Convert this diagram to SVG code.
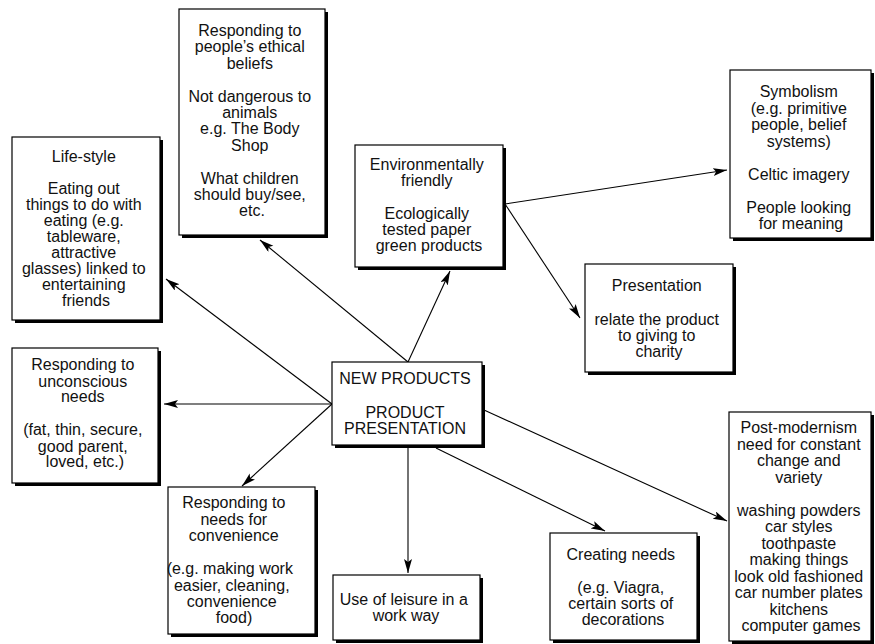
<svg xmlns="http://www.w3.org/2000/svg" width="875" height="644" viewBox="0 0 875 644">
  <style>
    .shadow { fill: #000; }
    .box { fill: #fff; stroke: #000; stroke-width: 1.2; }
    .label { font-family: "Liberation Sans", Arial, Helvetica, sans-serif; font-size: 16px; fill: #111; text-anchor: middle; }
    .link { stroke: #000; stroke-width: 1.1; fill: none; marker-end: url(#arrow); }
  </style>
  <defs>
    <marker id="arrow" markerUnits="userSpaceOnUse" markerWidth="15" markerHeight="9" refX="14" refY="4" orient="auto">
      <path d="M0,0 L14,4 L0,8 L3,4 Z" fill="#000"/>
    </marker>
  </defs>
  <rect width="875" height="644" fill="#fff"/>

  <!-- connectors -->
  <g id="connectors">
    <line class="link" x1="332" y1="404" x2="166" y2="279"/>
    <line class="link" x1="332" y1="404" x2="164" y2="404"/>
    <line class="link" x1="332" y1="404" x2="242" y2="486"/>
    <line class="link" x1="408" y1="362" x2="260" y2="240"/>
    <line class="link" x1="408" y1="362" x2="450" y2="271"/>
    <line class="link" x1="505" y1="204" x2="727" y2="170"/>
    <line class="link" x1="505" y1="204" x2="580" y2="318"/>
    <line class="link" x1="408" y1="448" x2="408" y2="573"/>
    <line class="link" x1="436" y1="448" x2="605" y2="531"/>
    <line class="link" x1="484" y1="410" x2="727" y2="521"/>
  </g>

  <!-- centre node -->
  <g id="node-new-products">
    <rect class="shadow" x="335" y="365" width="150" height="83"/>
    <rect class="box" x="332" y="362" width="150" height="83"/>
    <text class="label" x="405" y="384">NEW PRODUCTS</text>
    <text class="label" x="405" y="418">PRODUCT</text>
    <text class="label" x="405" y="434">PRESENTATION</text>
  </g>

  <g id="node-ethical">
    <rect class="shadow" x="182" y="12" width="146" height="226"/>
    <rect class="box" x="179" y="9" width="146" height="226"/>
    <text class="label">
      <tspan x="252" y="36">Responding to</tspan>
      <tspan x="252" y="52.4">people’s ethical</tspan>
      <tspan x="252" y="68.8">beliefs</tspan>
      <tspan x="252" y="101.6">Not dangerous to</tspan>
      <tspan x="252" y="118">animals</tspan>
      <tspan x="252" y="134.4">e.g. The Body</tspan>
      <tspan x="252" y="150.8">Shop</tspan>
      <tspan x="252" y="183.6">What children</tspan>
      <tspan x="252" y="200">should buy/see,</tspan>
      <tspan x="252" y="216.4">etc.</tspan>
    </text>
  </g>

  <g id="node-lifestyle">
    <rect class="shadow" x="15" y="140" width="148" height="183"/>
    <rect class="box" x="12" y="137" width="148" height="183"/>
    <text class="label">
      <tspan x="86" y="162">Life-style</tspan>
      <tspan x="86" y="194">Eating out</tspan>
      <tspan x="86" y="210">things to do with</tspan>
      <tspan x="86" y="226">eating (e.g.</tspan>
      <tspan x="86" y="242">tableware,</tspan>
      <tspan x="86" y="258">attractive</tspan>
      <tspan x="86" y="274">glasses) linked to</tspan>
      <tspan x="86" y="290">entertaining</tspan>
      <tspan x="86" y="306">friends</tspan>
    </text>
  </g>

  <g id="node-environment">
    <rect class="shadow" x="358" y="148" width="148" height="122"/>
    <rect class="box" x="355" y="145" width="148" height="122"/>
    <text class="label">
      <tspan x="429" y="170">Environmentally</tspan>
      <tspan x="429" y="186">friendly</tspan>
      <tspan x="429" y="219">Ecologically</tspan>
      <tspan x="429" y="235">tested paper</tspan>
      <tspan x="429" y="251">green products</tspan>
    </text>
  </g>

  <g id="node-symbolism">
    <rect class="shadow" x="733" y="73" width="141" height="168"/>
    <rect class="box" x="730" y="70" width="141" height="168"/>
    <text class="label">
      <tspan x="801" y="97">Symbolism</tspan>
      <tspan x="801" y="113.5">(e.g. primitive</tspan>
      <tspan x="801" y="130">people, belief</tspan>
      <tspan x="801" y="146.5">systems)</tspan>
      <tspan x="801" y="179.5">Celtic imagery</tspan>
      <tspan x="801" y="212.5">People looking</tspan>
      <tspan x="801" y="229">for meaning</tspan>
    </text>
  </g>

  <g id="node-presentation">
    <rect class="shadow" x="588" y="267" width="148" height="108"/>
    <rect class="box" x="585" y="264" width="148" height="108"/>
    <text class="label">
      <tspan x="659" y="291">Presentation</tspan>
      <tspan x="659" y="325">relate the product</tspan>
      <tspan x="659" y="341">to giving to</tspan>
      <tspan x="659" y="357">charity</tspan>
    </text>
  </g>

  <g id="node-unconscious">
    <rect class="shadow" x="15" y="351" width="146" height="135"/>
    <rect class="box" x="12" y="348" width="146" height="135"/>
    <text class="label">
      <tspan x="85" y="370">Responding to</tspan>
      <tspan x="85" y="386.5">unconscious</tspan>
      <tspan x="85" y="402">needs</tspan>
      <tspan x="85" y="435">(fat, thin, secure,</tspan>
      <tspan x="85" y="451.5">good parent,</tspan>
      <tspan x="85" y="467">loved, etc.)</tspan>
    </text>
  </g>

  <g id="node-convenience">
    <rect class="shadow" x="171" y="490" width="147" height="147"/>
    <rect class="box" x="168" y="487" width="147" height="147"/>
    <text class="label">
      <tspan x="236" y="508">Responding to</tspan>
      <tspan x="236" y="524.5">needs for</tspan>
      <tspan x="236" y="541">convenience</tspan>
      <tspan x="232" y="574">(e.g. making work</tspan>
      <tspan x="234" y="590.5">easier, cleaning,</tspan>
      <tspan x="234" y="607">convenience</tspan>
      <tspan x="234" y="623">food)</tspan>
    </text>
  </g>

  <g id="node-leisure">
    <rect class="shadow" x="336" y="578" width="147" height="65"/>
    <rect class="box" x="333" y="575" width="147" height="65"/>
    <text class="label">
      <tspan x="406" y="605">Use of leisure in a</tspan>
      <tspan x="406" y="621">work way</tspan>
    </text>
  </g>

  <g id="node-creating-needs">
    <rect class="shadow" x="553" y="536" width="147" height="107"/>
    <rect class="box" x="550" y="533" width="147" height="107"/>
    <text class="label">
      <tspan x="623" y="560">Creating needs</tspan>
      <tspan x="623" y="593">(e.g. Viagra,</tspan>
      <tspan x="623" y="609">certain sorts of</tspan>
      <tspan x="623" y="625">decorations</tspan>
    </text>
  </g>

  <g id="node-post-modernism">
    <rect class="shadow" x="732" y="415" width="142" height="229"/>
    <rect class="box" x="729" y="412" width="142" height="229"/>
    <text class="label">
      <tspan x="801" y="433">Post-modernism</tspan>
      <tspan x="801" y="449.5">need for constant</tspan>
      <tspan x="801" y="466">change and</tspan>
      <tspan x="801" y="482.5">variety</tspan>
      <tspan x="801" y="515.5">washing powders</tspan>
      <tspan x="801" y="532">car styles</tspan>
      <tspan x="801" y="548.5">toothpaste</tspan>
      <tspan x="801" y="565">making things</tspan>
      <tspan x="801" y="581.5">look old fashioned</tspan>
      <tspan x="801" y="598">car number plates</tspan>
      <tspan x="801" y="614.5">kitchens</tspan>
      <tspan x="801" y="631">computer games</tspan>
    </text>
  </g>
</svg>
